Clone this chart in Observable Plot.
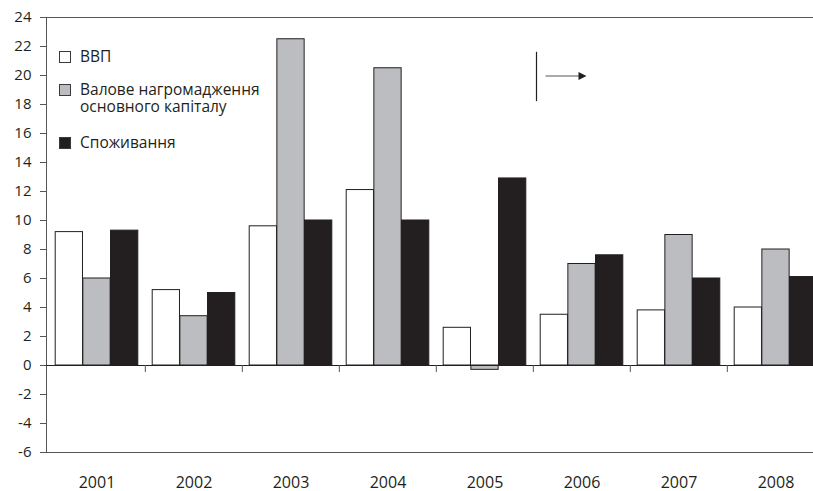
<!DOCTYPE html>
<html>
<head>
<meta charset="utf-8">
<script src="https://cdn.jsdelivr.net/npm/d3@7"></script>
<script src="https://cdn.jsdelivr.net/npm/@observablehq/plot@0.6"></script>
<style>
  html, body { margin: 0; padding: 0; background: #fff; overflow: hidden; }
  #chart { width: 813px; height: 491px; overflow: hidden; }
</style>
</head>
<body>
<div id="chart"></div>
<script>
// Annual growth, %
const years = ["2001", "2002", "2003", "2004", "2005", "2006", "2007", "2008"];
const gdp = [9.2, 5.2, 9.6, 12.1, 2.6, 3.5, 3.8, 4.0];
const capital = [6.0, 3.4, 22.5, 20.5, -0.3, 7.0, 9.0, 8.0];
const consumption = [9.3, 5.0, 10.0, 10.0, 12.9, 7.6, 6.0, 6.1];

const seriesNames = ["ВВП", "Валове нагромадження\nосновного капіталу", "Споживання"];
const seriesColors = ["#ffffff", "#bcbdc0", "#231f20"];
const yTicks = d3.range(-6, 25, 2);

// Annotation: a divider at the start of 2006 with an arrow pointing forward
const markerYear = "2006";
const markerTop = 21.6;
const markerBottom = 18.2;
const arrowLevel = 20;

const rows = years.map((year, i) => ({year, gdp: gdp[i], capital: capital[i], consumption: consumption[i]}));
const keys = ["gdp", "capital", "consumption"];

const W = 813, H = 491;
const marginLeft = 46, marginRight = -12, marginTop = 17, marginBottom = 39;
const step = (W - marginRight - marginLeft) / years.length;
const pad = 7.2;
const barW = (step - 2 * pad) / 3;
const ink = "#231f20";

const barMarks = keys.map((k, i) => Plot.barY(rows, {
  x: "year",
  y: k,
  fill: seriesColors[i],
  stroke: ink,
  strokeWidth: 1,
  insetLeft: pad + i * barW,
  insetRight: step - pad - (i + 1) * barW
}));

// Legend drawn inside the plot frame, top-left
function legend(index, scales, values, dimensions) {
  const g = d3.create("svg:g")
    .attr("font-family", "'Open Sans', sans-serif")
    .attr("font-size", 15.5)
    .attr("text-anchor", "start")
    .attr("fill", ink);
  const x0 = dimensions.marginLeft + 13;
  const rowsY = [62, 95, 148];
  seriesNames.forEach((name, i) => {
    const base = rowsY[i];
    g.append("rect")
      .attr("x", x0 + 0.5).attr("y", base - 10.5)
      .attr("width", 11).attr("height", 11)
      .attr("fill", seriesColors[i])
      .attr("stroke", "#3a3a3a").attr("stroke-width", 1);
    const t = g.append("text").attr("x", x0 + 21).attr("y", base).attr("text-anchor", "start");
    name.split("\n").forEach((line, j) => {
      t.append("tspan").attr("x", x0 + 21).attr("dy", j ? 16.7 : 0).text(line);
    });
  });
  return g.node();
}

// Divider and arrow, positioned through the chart's own scales
function annotation(index, scales) {
  const xs = scales.x(markerYear) + 3.5;
  const yTop = scales.y(markerTop), yBot = scales.y(markerBottom), yA = scales.y(arrowLevel) + 1;
  const g = d3.create("svg:g");
  g.append("line").attr("x1", xs).attr("x2", xs).attr("y1", yTop).attr("y2", yBot)
    .attr("stroke", ink).attr("stroke-width", 1.2);
  g.append("line").attr("x1", xs + 9).attr("x2", xs + 44).attr("y1", yA).attr("y2", yA)
    .attr("stroke", "#555").attr("stroke-width", 1.2);
  g.append("path")
    .attr("d", `M${xs + 50},${yA} L${xs + 42},${yA - 4} L${xs + 42},${yA + 4} Z`)
    .attr("fill", ink);
  return g.node();
}

const chart = Plot.plot({
  width: W,
  height: H,
  marginLeft, marginRight, marginTop, marginBottom,
  style: {fontFamily: "'Open Sans', sans-serif", fontSize: "15px", color: ink, background: "#fff"},
  x: {domain: years, padding: 0},
  y: {domain: [-6, 24]},
  marks: [
    Plot.frame({stroke: "#555", strokeWidth: 1}),
    ...barMarks,
    Plot.ruleY([0], {stroke: ink, strokeWidth: 1.2}),
    Plot.ruleX(years.slice(1), {x: d => d, y1: 0, y2: -0.48, dx: -step / 2, stroke: "#555"}),
    Plot.axisY({ticks: yTicks, tickFormat: d => String(d), tickSize: 6, tickPadding: 9, fontSize: 15, stroke: "#555", label: null}),
    Plot.axisX({tickSize: 0, tickPadding: 24, fontSize: 16, label: null}),
    legend,
    annotation
  ]
});

document.getElementById("chart").appendChild(chart);
</script>
</body>
</html>
